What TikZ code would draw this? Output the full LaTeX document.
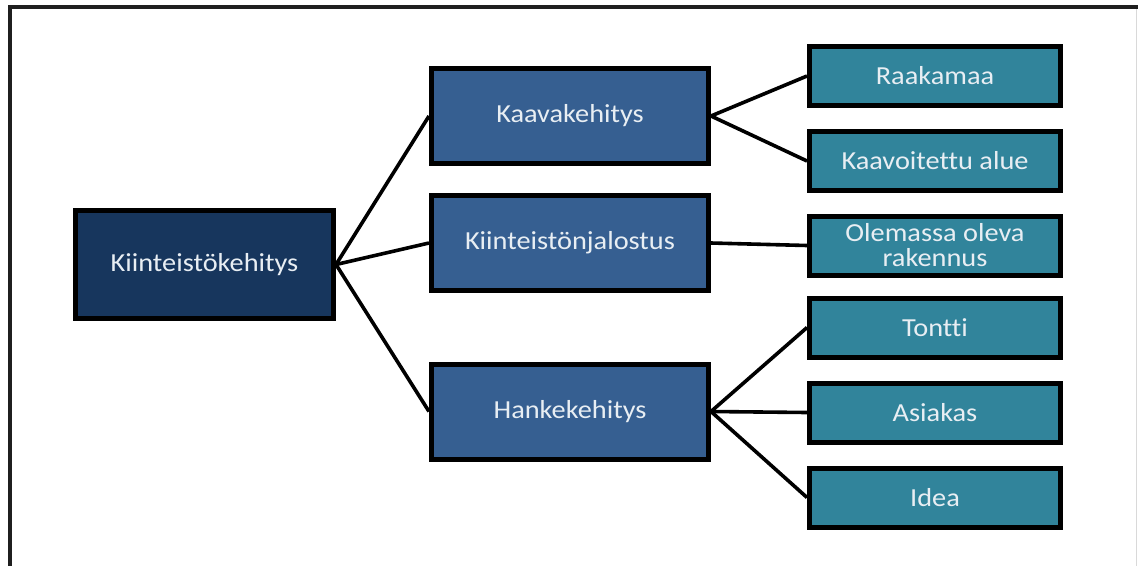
\documentclass[tikz,border=0pt]{standalone}
\usepackage{fontspec}
\setmainfont{Carlito}[FakeStretch=1.09,Ligatures=NoCommon]
\begin{document}
\begin{tikzpicture}[x=1pt,y=-1pt,
  box/.style={draw=black,line width=5pt,text=textlight,align=center,
    font=\fontsize{26}{25}\selectfont,inner sep=0pt},
  rootbox/.style={box,fill=rootblue,minimum width=258pt,minimum height=108pt},
  midbox/.style={box,fill=midblue,minimum width=277pt,minimum height=95pt},
  leafbox/.style={box,fill=leafteal,minimum width=251pt,minimum height=59pt},
  link/.style={draw=black,line width=3.6pt}]
\definecolor{rootblue}{HTML}{17365D}
\definecolor{midblue}{HTML}{365F91}
\definecolor{leafteal}{HTML}{31849B}
\definecolor{textlight}{HTML}{E8EEF3}
\useasboundingbox (0,0) rectangle (1138,566);
\fill[white] (0,0) rectangle (1138,566);
% frame
\draw[line width=4pt,color=black!88] (8,7) -- (1138,7);
\draw[line width=4pt,color=black!88] (10,5) -- (10,566);
\draw[line width=1pt,color=black!15] (1136.5,9) -- (1136.5,566);
% boxes: root, three branches, six leaves
\node[rootbox] (root) at (204.5,264.5) {Kiinteistökehitys};
\node[midbox] (kaava) at (570,116) {Kaavakehitys};
\node[midbox] (jalo) at (570,243) {Kiinteistönjalostus};
\node[midbox] (hanke) at (570,411.5) {Hankekehitys};
\node[leafbox] (raaka) at (935,76) {Raakamaa};
\node[leafbox] (kaavoit) at (935,161) {Kaavoitettu alue};
\node[leafbox] (olemassa) at (935,245.5) {Olemassa oleva\\rakennus};
\node[leafbox] (tontti) at (935,327.5) {Tontti};
\node[leafbox] (asiakas) at (935,412.5) {Asiakas};
\node[leafbox] (idea) at (935,497.5) {Idea};
% connectors
\draw[link] (root.east) -- (kaava.west);
\draw[link] (root.east) -- (jalo.west);
\draw[link] (root.east) -- (hanke.west);
\draw[link] (kaava.east) -- (raaka.west);
\draw[link] (kaava.east) -- (kaavoit.west);
\draw[link] (jalo.east) -- (olemassa.west);
\draw[link] (hanke.east) -- (tontti.west);
\draw[link] (hanke.east) -- (asiakas.west);
\draw[link] (hanke.east) -- (idea.west);
\end{tikzpicture}
\end{document}
